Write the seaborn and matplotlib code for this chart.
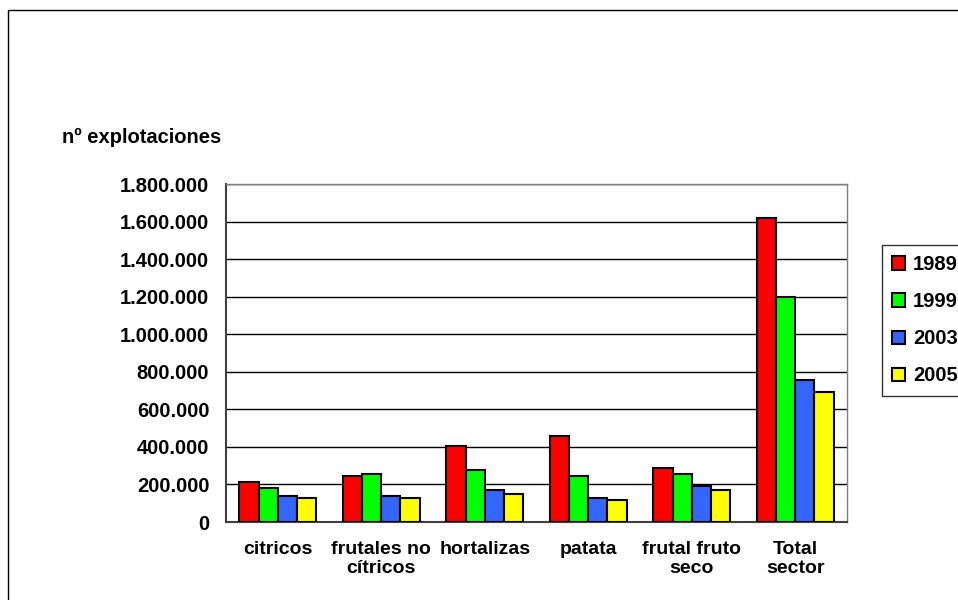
import matplotlib
matplotlib.use("Agg")
import matplotlib.pyplot as plt
import matplotlib.ticker as mticker
from matplotlib.patches import Rectangle
import seaborn as sns
import pandas as pd
import numpy as np

# Data
categories = ["citricos", "frutales no\ncítricos", "hortalizas", "patata",
              "frutal fruto\nseco", "Total\nsector"]
years = ["1989", "1999", "2003", "2005"]
v1989 = [213000, 245000, 405000, 458000, 286000, 1619000]
v1999 = [183000, 255000, 277000, 245000, 254000, 1200000]
v2003 = [138000, 138000, 170000, 128000, 190000, 754000]
v2005 = [128000, 128000, 149000, 117000, 170000, 692000]
colors = ["#FF0000", "#00FF00", "#3366FF", "#FFFF00"]

rows = []
for yr, vals in zip(years, [v1989, v1999, v2003, v2005]):
    for cat, v in zip(categories, vals):
        rows.append({"categoria": cat, "year": yr, "valor": v})
df = pd.DataFrame(rows)

sns.set_style("white")
plt.rcParams["font.family"] = ["Liberation Sans", "DejaVu Sans"]
plt.rcParams["font.weight"] = "bold"
plt.rcParams["text.color"] = "black"
plt.rcParams["xtick.color"] = "black"
plt.rcParams["ytick.color"] = "black"

fig = plt.figure(figsize=(9.58, 6.0), dpi=100)
ax = fig.add_axes([226 / 958, 1 - 522 / 600, (847 - 226) / 958, (522 - 184) / 600])

sns.barplot(data=df, x="categoria", y="valor", hue="year", order=categories,
            hue_order=years, palette=colors, width=0.74, edgecolor="black",
            linewidth=1.5, saturation=1, ax=ax, zorder=3)

ax.set_ylim(0, 1800000)
ax.set_xlim(-0.5, len(categories) - 0.5)
ax.yaxis.set_major_locator(mticker.MultipleLocator(200000))
ax.yaxis.set_major_formatter(mticker.FuncFormatter(
    lambda v, p: f"{int(v):,}".replace(",", ".")))
ax.grid(axis="y", color="black", linewidth=1, zorder=0)
ax.set_axisbelow(True)
ax.set_xlabel("")
ax.set_ylabel("")

# ticks at category boundaries on x
ax.set_xticks(np.arange(len(categories)))
ax.set_xticklabels(categories, fontsize=14, fontweight="bold", linespacing=1.1)
ax.set_xticks(np.arange(-0.5, len(categories)), minor=True)
ax.tick_params(axis="x", which="major", length=0, pad=14)
ax.tick_params(axis="x", which="minor", length=6, width=1, color="#404040", direction="out")
ax.tick_params(axis="y", length=6, width=1, color="#404040", direction="out", pad=6,
               labelsize=14.5)
for lab in ax.get_yticklabels():
    lab.set_fontweight("bold")

for side in ["left", "bottom"]:
    ax.spines[side].set_color("#404040")
    ax.spines[side].set_linewidth(1.5)
for side in ["top", "right"]:
    ax.spines[side].set_visible(True)
    ax.spines[side].set_color("#808080")
    ax.spines[side].set_linewidth(1)

leg = ax.legend(loc="upper left", bbox_to_anchor=(882 / 958, 1 - 245 / 600),
                bbox_transform=fig.transFigure, frameon=True, fancybox=False,
                prop={"size": 14.5, "weight": "bold"}, handlelength=0.65,
                handleheight=0.65, handletextpad=0.4, labelspacing=0.9,
                borderpad=0.5, borderaxespad=0)
leg.get_frame().set_edgecolor("black")
leg.get_frame().set_linewidth(1)
for h in leg.legend_handles:
    h.set_linewidth(1.5)
    h.set_edgecolor("black")

fig.text(62 / 958, 1 - 137 / 600, "nº explotaciones", fontsize=14.5,
         fontweight="bold", va="center", ha="left")

fig.patches.append(Rectangle((8 / 958, -0.05), 1.1, 1 - 10 / 600 + 0.05,
                             transform=fig.transFigure, fill=False,
                             edgecolor="black", linewidth=1))

fig.savefig("out.png", dpi=100)
